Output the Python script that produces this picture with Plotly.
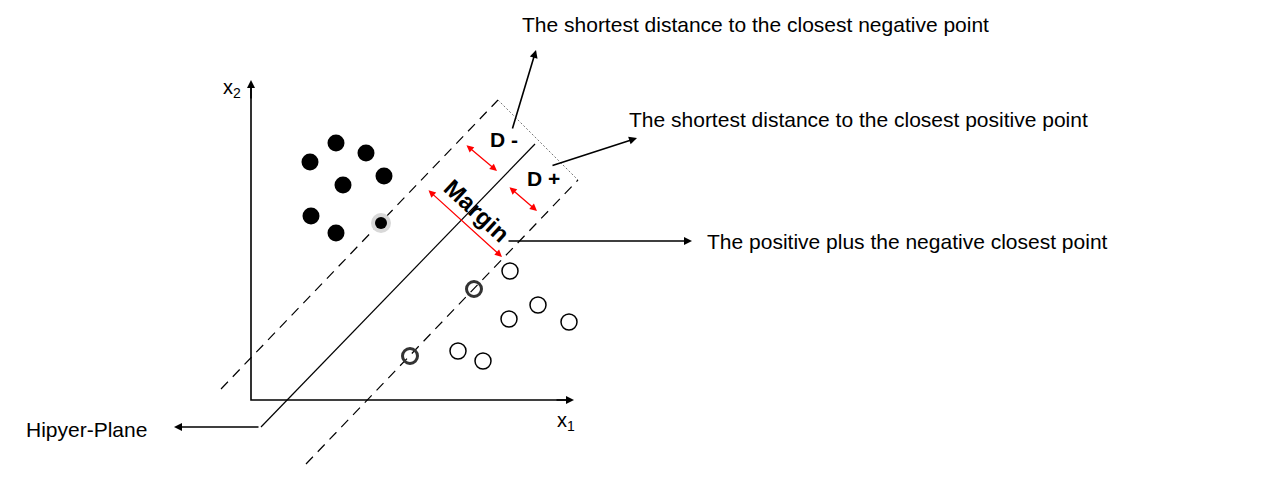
import plotly.graph_objects as go

# ---- data (diagram coordinates, pixel-like space) ----
neg_x = [310, 336, 366, 384, 343, 311, 336]
neg_y = [162, 143, 153, 176, 185, 216, 233]
neg_sv_x = [381]
neg_sv_y = [223]
pos_x = [510, 538, 509, 569, 458, 483]
pos_y = [271, 305, 319, 322, 351, 361]
pos_sv_x = [474, 410]
pos_sv_y = [289, 356]

hyper_x = [261, 535]
hyper_y = [427, 144]
neg_margin_x = [221, 498]
neg_margin_y = [389, 100]
pos_margin_x = [306, 578]
pos_margin_y = [464, 180]

labels = {
    "neg": "The shortest distance to the closest negative point",
    "pos": "The shortest distance to the closest positive point",
    "margin": "The positive plus the negative closest point",
    "hyper": "Hipyer-Plane",
}

FONT = "Liberation Sans, Arial, sans-serif"
OFF = 8  # page body margin compensation

fig = go.Figure()

# axes of the diagram
fig.add_trace(go.Scatter(x=[251, 251, 566], y=[86, 400, 400], mode="lines",
                         line=dict(color="black", width=1.6), hoverinfo="skip"))
# hyperplane and margins
fig.add_trace(go.Scatter(x=hyper_x, y=hyper_y, mode="lines",
                         line=dict(color="black", width=1.2), hoverinfo="skip"))
fig.add_trace(go.Scatter(x=neg_margin_x, y=neg_margin_y, mode="lines",
                         line=dict(color="black", width=1.2, dash="10px,7px"), hoverinfo="skip"))
fig.add_trace(go.Scatter(x=pos_margin_x, y=pos_margin_y, mode="lines",
                         line=dict(color="black", width=1.2, dash="10px,7px"), hoverinfo="skip"))
# dotted connector between margin ends
fig.add_trace(go.Scatter(x=[neg_margin_x[1], pos_margin_x[1]], y=[neg_margin_y[1], pos_margin_y[1]],
                         mode="lines", line=dict(color="#777777", width=1, dash="2px,2px"),
                         hoverinfo="skip"))

# points
fig.add_trace(go.Scatter(x=neg_x, y=neg_y, mode="markers",
                         marker=dict(size=17, color="black"), hoverinfo="skip"))
fig.add_trace(go.Scatter(x=neg_sv_x, y=neg_sv_y, mode="markers",
                         marker=dict(size=20, color="#d8d8d8"), hoverinfo="skip"))
fig.add_trace(go.Scatter(x=neg_sv_x, y=neg_sv_y, mode="markers",
                         marker=dict(size=12, color="black"), hoverinfo="skip"))
fig.add_trace(go.Scatter(x=pos_x, y=pos_y, mode="markers",
                         marker=dict(size=16, color="white", line=dict(color="black", width=1.5)),
                         hoverinfo="skip"))
fig.add_trace(go.Scatter(x=pos_sv_x, y=pos_sv_y, mode="markers",
                         marker=dict(size=15, color="rgba(0,0,0,0)", line=dict(color="#333333", width=3)),
                         hoverinfo="skip"))

anns = []
# axis arrowheads
anns.append(dict(x=251, y=80, ax=251, ay=100, xref="x", yref="y", axref="x", ayref="y",
                 showarrow=True, arrowhead=2, arrowsize=1, arrowwidth=1.6, arrowcolor="black", text=""))
anns.append(dict(x=574, y=400, ax=555, ay=400, xref="x", yref="y", axref="x", ayref="y",
                 showarrow=True, arrowhead=2, arrowsize=1, arrowwidth=1.6, arrowcolor="black", text=""))
# axis labels
anns.append(dict(x=232, y=88, xref="x", yref="y", showarrow=False,
                 text="x<sub>2</sub>", font=dict(family=FONT, size=20, color="black")))
anns.append(dict(x=566, y=421, xref="x", yref="y", showarrow=False,
                 text="x<sub>1</sub>", font=dict(family=FONT, size=20, color="black")))

# red double arrows
for (x0, y0, x1, y1) in [(465, 144, 497, 171), (508, 186, 537, 211), (427, 189, 502, 257)]:
    anns.append(dict(x=x1, y=y1, ax=x0, ay=y0, xref="x", yref="y", axref="x", ayref="y",
                     showarrow=True, arrowhead=2, startarrowhead=2, arrowside="end+start",
                     arrowsize=1.1, startarrowsize=1.1, arrowwidth=1.3, arrowcolor="red", text=""))

# D-, D+, Margin labels
anns.append(dict(x=504, y=139, xref="x", yref="y", showarrow=False, text="<b>D -</b>",
                 font=dict(family=FONT, size=21, color="black")))
anns.append(dict(x=543, y=178, xref="x", yref="y", showarrow=False, text="<b>D +</b>",
                 font=dict(family=FONT, size=21, color="black")))
anns.append(dict(x=477, y=210, xref="x", yref="y", showarrow=False, text="<b>Margin</b>",
                 textangle=43, font=dict(family=FONT, size=24, color="black")))

# black pointer arrows
for (x0, y0, x1, y1) in [(512, 130, 536, 50), (551, 166, 637, 138), (507, 241, 692, 241), (260, 427, 174, 427)]:
    anns.append(dict(x=x1, y=y1, ax=x0, ay=y0, xref="x", yref="y", axref="x", ayref="y",
                     showarrow=True, arrowhead=2, arrowsize=1, arrowwidth=1.6, arrowcolor="black", text=""))

# descriptive texts
TS = 21
anns.append(dict(x=520, y=24, xref="x", yref="y", xanchor="left", showarrow=False, text=labels["neg"],
                 font=dict(family=FONT, size=TS, color="black")))
anns.append(dict(x=627, y=119, xref="x", yref="y", xanchor="left", showarrow=False, text=labels["pos"],
                 font=dict(family=FONT, size=TS, color="black")))
anns.append(dict(x=705, y=241, xref="x", yref="y", xanchor="left", showarrow=False, text=labels["margin"],
                 font=dict(family=FONT, size=TS, color="black")))
anns.append(dict(x=24, y=429, xref="x", yref="y", xanchor="left", showarrow=False, text=labels["hyper"],
                 font=dict(family=FONT, size=TS, color="black")))

fig.update_layout(
    width=1280, height=482,
    margin=dict(l=0, r=0, t=0, b=0),
    paper_bgcolor="white", plot_bgcolor="white",
    showlegend=False,
    annotations=anns,
    xaxis=dict(range=[OFF, 1280 + OFF], visible=False, fixedrange=True),
    yaxis=dict(range=[482 + OFF, OFF], visible=False, fixedrange=True),
)

fig.write_html("out.html")
